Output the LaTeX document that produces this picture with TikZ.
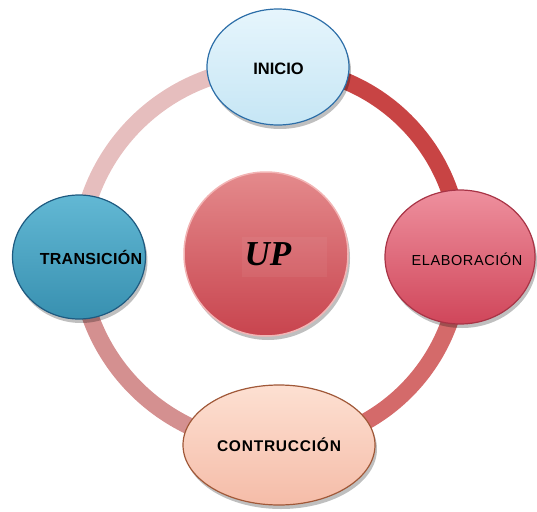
\documentclass[tikz,border=0pt]{standalone}
\usepackage{fontspec}
\setmainfont{Liberation Sans}
\newfontfamily\upfont{Liberation Serif}
\newfontfamily\elabfont[LetterSpace=4]{Liberation Sans}
\newfontfamily\contfont[LetterSpace=5]{Liberation Sans}
\newfontfamily\transfont[LetterSpace=2]{Liberation Sans}
\usetikzlibrary{shapes.geometric,shadows}
\definecolor{ringA}{HTML}{E6BEBE}
\definecolor{ringB}{HTML}{C84444}
\definecolor{ringC}{HTML}{D46A6A}
\definecolor{ringD}{HTML}{D49090}
\definecolor{iniT}{HTML}{E6F5FC}
\definecolor{iniB}{HTML}{C6E6F5}
\definecolor{iniD}{HTML}{2C6EA8}
\definecolor{elaT}{HTML}{EE909E}
\definecolor{elaB}{HTML}{D0465A}
\definecolor{elaD}{HTML}{A83446}
\definecolor{traT}{HTML}{62B8D4}
\definecolor{traB}{HTML}{3890B0}
\definecolor{traD}{HTML}{1E5A80}
\definecolor{conT}{HTML}{FDE0D2}
\definecolor{conB}{HTML}{F5BCA8}
\definecolor{conD}{HTML}{A05838}
\definecolor{upT}{HTML}{E48A8C}
\definecolor{upB}{HTML}{C8444E}
\definecolor{upD}{HTML}{F2B4B4}
\pgfdeclarelayer{bg}
\pgfsetlayers{bg,main}
\begin{document}
\begin{tikzpicture}[x=1pt,y=-1pt,
  bub/.style={ellipse, inner sep=0pt, line width=1.2pt,
    drop shadow={shadow xshift=2pt, shadow yshift=-4pt, opacity=0.25, fill=black}},
  ringseg/.style={line width=17pt}]
\useasboundingbox (0,0) rectangle (537,511);
\node[bub, minimum width=142pt, minimum height=116pt, top color=iniT, bottom color=iniB, draw=iniD] (ini) at (278,67) {};
\node[font=\fontsize{16.5}{18}\selectfont\bfseries] (initext) at (278.5,69) {INICIO};
\node[bub, minimum width=150pt, minimum height=134pt, top color=elaT, bottom color=elaB, draw=elaD] (ela) at (460,257) {};
\node[font=\fontsize{14.5}{16}\elabfont] (elatext) at (467,259) {ELABORACIÓN};
\node[bub, minimum width=133pt, minimum height=124pt, top color=traT, bottom color=traB, draw=traD] (tra) at (79,257) {};
\node[font=\fontsize{16}{18}\transfont\bfseries] (tratext) at (91,257) {TRANSICIÓN};
\node[bub, minimum width=192pt, minimum height=120pt, top color=conT, bottom color=conB, draw=conD] (con) at (279,445) {};
\node[font=\fontsize{15.5}{17}\contfont\bfseries] (context) at (279,445) {CONTRUCCIÓN};
\node[circle, inner sep=0pt, minimum size=164pt, top color=upT, bottom color=upB, draw=upD, line width=1.5pt,
  drop shadow={shadow xshift=2pt, shadow yshift=-4pt, opacity=0.25, fill=black}] (up) at (266,254) {};
\fill[white, opacity=0.05] (242,237) rectangle (327,277);
\node[font=\fontsize{35}{38}\upfont\bfseries\itshape] (uplabel) at (268,254) {UP};
\begin{pgfonlayer}{bg}
\draw[ringseg, ringB] (ini.center) to[bend left=45] (ela.center);
\draw[ringseg, ringC] (ela.center) to[bend left=45] (con.center);
\draw[ringseg, ringD] (con.center) to[bend left=45] (tra.center);
\draw[ringseg, ringA] (tra.center) to[bend left=45] (ini.center);
\end{pgfonlayer}
\end{tikzpicture}
\end{document}
